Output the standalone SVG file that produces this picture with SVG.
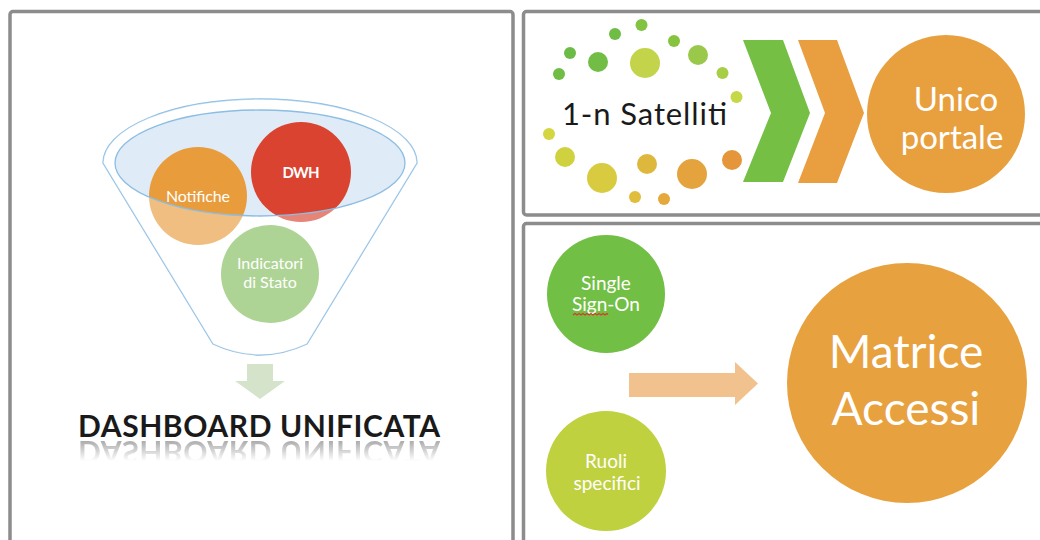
<svg xmlns="http://www.w3.org/2000/svg" xmlns:xlink="http://www.w3.org/1999/xlink" width="1040" height="540" viewBox="0 0 1040 540">
  <style>
    .panel { fill: #ffffff; stroke: #8c8c8c; stroke-width: 3.5; }
    .lbl { font-family: Lato, "Open Sans", sans-serif; fill: #ffffff; text-anchor: middle; }
    .dark { font-family: Lato, "Open Sans", sans-serif; fill: #1a1a1a; }
    .funnel { stroke: #8cbde3; stroke-width: 1.3; }
  </style>
  <defs>
    <linearGradient id="fade" x1="0" y1="0" x2="0" y2="1">
      <stop offset="0" stop-color="#ffffff" stop-opacity="0.5"/>
      <stop offset="1" stop-color="#ffffff" stop-opacity="0"/>
    </linearGradient>
    <mask id="reflMask" maskUnits="userSpaceOnUse" x="60" y="439" width="400" height="22">
      <rect x="60" y="439" width="400" height="22" fill="url(#fade)"/>
    </mask>
  </defs>

  <rect width="1040" height="540" fill="#ffffff"/>

  <!-- panels -->
  <g id="panels">
    <rect class="panel" x="10" y="11.5" width="503" height="560" rx="3"/>
    <rect class="panel" x="523.5" y="11.5" width="540" height="203.5" rx="3"/>
    <rect class="panel" x="523.5" y="223.5" width="540" height="340" rx="3"/>
  </g>

  <!-- funnel -->
  <g id="funnel">
    <path class="funnel" fill="#ffffff" d="M103,163 A157,64 0 0 1 417,163 L307,344 Q260,366 213,344 Z"/>
    <ellipse cx="260" cy="163" rx="145" ry="53" fill="#dfebf6" stroke="none"/>
  </g>

  <g id="node-notifiche">
    <circle cx="198" cy="196" r="49" fill="#e89c3c"/>
  </g>
  <g id="node-dwh">
    <circle cx="301" cy="172" r="50" fill="#d9432f"/>
  </g>
  <g id="node-indicatori">
    <circle cx="270" cy="274" r="49" fill="#83bd5c"/>
  </g>

  <g id="funnel-veil">
    <path fill="#ffffff" fill-opacity="0.35" fill-rule="evenodd" d="M103,163 A157,64 0 0 1 417,163 L307,344 Q260,366 213,344 Z M115,163 A145,53 0 0 0 405,163 A145,53 0 0 0 115,163 Z"/>
    <ellipse class="funnel" cx="260" cy="163" rx="145" ry="53" fill="none"/>
  </g>

  <g id="funnel-labels">
    <text class="lbl" x="198" y="202" font-size="16" textLength="64">Notifiche</text>
    <text class="lbl" x="301" y="178" font-size="15" font-weight="bold" textLength="37">DWH</text>
    <text class="lbl" font-size="16"><tspan x="270" y="269">Indicatori</tspan><tspan x="270" y="288">di Stato</tspan></text>
  </g>

  <g id="node-dashboard">
    <text id="dash" class="dark" x="259" y="437" font-size="30" font-weight="bold" text-anchor="middle" textLength="362">DASHBOARD UNIFICATA</text>
    <g mask="url(#reflMask)" opacity="0.8">
      <use xlink:href="#dash" href="#dash" transform="translate(0,878) scale(1,-1)"/>
    </g>
  </g>

  <!-- satellites -->
  <g id="node-satelliti">
    <circle cx="641.5" cy="25" r="6" fill="#82c341"/>
    <circle cx="615" cy="34" r="6" fill="#6fbd45"/>
    <circle cx="674" cy="41" r="6" fill="#86c440"/>
    <circle cx="570" cy="53" r="6" fill="#6cbb47"/>
    <circle cx="598" cy="62" r="10" fill="#72bd45"/>
    <circle cx="645" cy="63" r="15" fill="#c3d34a"/>
    <circle cx="698" cy="55" r="10" fill="#9ac84a"/>
    <circle cx="559" cy="74" r="6" fill="#70bd46"/>
    <circle cx="722.5" cy="73" r="6" fill="#a8cd47"/>
    <circle cx="736.5" cy="97" r="6" fill="#c6d747"/>
    <circle cx="549" cy="134" r="6" fill="#d3d63f"/>
    <circle cx="565" cy="157" r="10" fill="#d0d13f"/>
    <circle cx="602" cy="178" r="15" fill="#d9cb3f"/>
    <circle cx="647" cy="164" r="10" fill="#deb83d"/>
    <circle cx="692" cy="174" r="15" fill="#e4a33c"/>
    <circle cx="732" cy="160" r="10" fill="#e5963a"/>
    <circle cx="635" cy="197" r="6" fill="#e0bd3b"/>
    <circle cx="664" cy="199" r="6" fill="#e4a93a"/>
    <text class="dark" x="562" y="125" font-size="31" textLength="165">1-n Satelliti</text>
  </g>

  <g id="node-portale">
    <circle cx="946" cy="114" r="79" fill="#e8a03f"/>
    <text class="lbl" font-size="33" fill="#fdf3e3"><tspan x="956" y="111">Unico</tspan><tspan x="952" y="149">portale</tspan></text>
  </g>

  <!-- access -->
  <g id="node-sso">
    <circle cx="606" cy="294" r="59" fill="#71bf44"/>
    <text class="lbl" font-size="19"><tspan x="606" y="290">Single</tspan><tspan x="606" y="311">Sign-On</tspan></text>
    <path d="M573,315 l2,-1.5 l2,1.5 l2,-1.5 l2,1.5 l2,-1.5 l2,1.5 l2,-1.5 l2,1.5 l2,-1.5 l2,1.5 l2,-1.5 l2,1.5 l2,-1.5 l2,1.5 l2,-1.5 l2,1.5 l2,-1.5 l1,1" fill="none" stroke="#d93a2b" stroke-width="1.1"/>
  </g>
  <g id="node-ruoli">
    <circle cx="606" cy="471" r="60" fill="#bfd13f"/>
    <text class="lbl" font-size="19"><tspan x="606" y="468">Ruoli</tspan><tspan x="607" y="490">specifici</tspan></text>
  </g>
  <g id="node-matrice">
    <circle cx="907" cy="383" r="120" fill="#e8a13f"/>
    <text class="lbl" font-size="46" fill="#fdf6ec"><tspan x="906" y="368">Matrice</tspan><tspan x="906" y="425">Accessi</tspan></text>
  </g>

  <!-- connectors -->
  <g id="connectors">
    <path d="M247,364 H273 V381 H285 L260,399 L235,381 H247 Z" fill="#d5e3cb"/>
    <path d="M743,40 H783 L810,113 L783,182 H743 L771,113 Z" fill="#74bf44"/>
    <path d="M798,40 H837 L864,113 L837,183 H798 L825,113 Z" fill="#e99f3f"/>
    <path d="M629,373 H735 V362 L758,383.5 L735,405 V397 H629 Z" fill="#f2c28e"/>
  </g>
</svg>
